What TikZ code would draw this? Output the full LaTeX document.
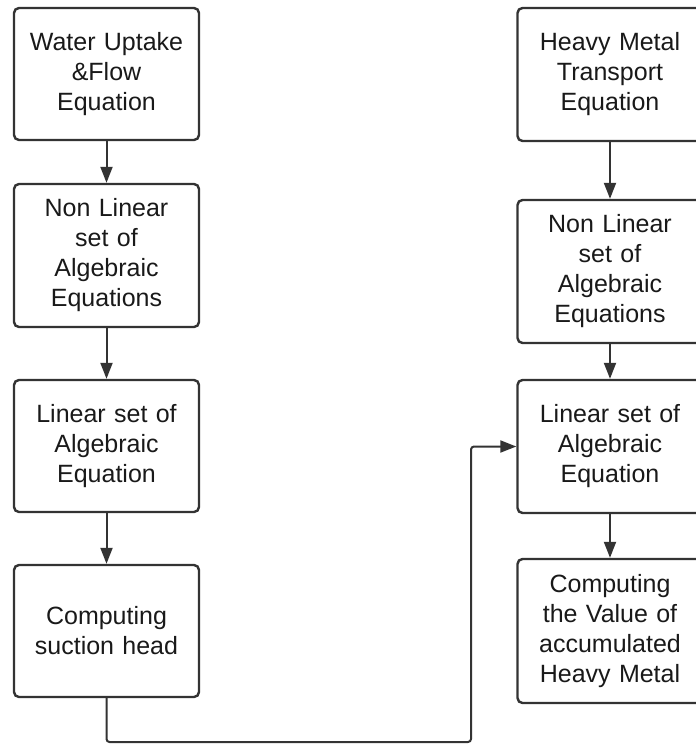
\documentclass[tikz,border=0pt]{standalone}
\usepackage{fontspec}
\setmainfont{Liberation Sans}
\usepackage{tikz}
\usetikzlibrary{arrows.meta,shapes}
\definecolor{linegray}{HTML}{333333}
\tikzstyle{stage}=[draw=linegray,line width=2.4pt,rounded corners=5pt,minimum width=185pt,text width=175pt,align=center,inner sep=0pt,font=\fontsize{25}{30}\selectfont,text=black!90]
\tikzstyle{edge} = [draw=linegray,line width=2pt,-{Triangle[length=16pt,width=12pt]}]

\begin{document}
\begin{tikzpicture}[x=1pt,y=-1pt]
    \clip (0,0) rectangle (696,745);
    % Left column: water flow part
    \node[stage,minimum height=132pt] (W_1) at (106.5,74) {Water Uptake\\\&Flow\\Equation};
    \node[stage,minimum height=143pt] (W_2) at (106.5,255.5) {Non Linear\\set of\\Algebraic\\Equations};
    \node[stage,minimum height=132pt] (W_3) at (106.5,446) {Linear set of\\Algebraic\\Equation};
    \node[stage,minimum height=132pt] (W_4) at (106.5,631) {Computing\\suction head};
    % Right column: heavy metal part
    \node[stage,minimum height=133pt] (H_1) at (610,74.5) {Heavy Metal\\Transport\\Equation};
    \node[stage,minimum height=143pt] (H_2) at (610,271.5) {Non Linear\\set of\\Algebraic\\Equations};
    \node[stage,minimum height=133pt] (H_3) at (610,446.5) {Linear set of\\Algebraic\\Equation};
    \node[stage,minimum height=144pt] (H_4) at (610,631) {Computing\\the Value of\\accumulated\\Heavy Metal};
    % Connect the stages
    \foreach \source/ \dest in {W_1/W_2, W_2/W_3, W_3/W_4, H_1/H_2, H_2/H_3, H_3/H_4}
        \path[edge] (\source) -- (\dest);
    \coordinate (turn) at (471,742);
    \path[edge,rounded corners=3pt] (W_4.south) |- (turn) |- (H_3.west);
\end{tikzpicture}
\end{document}
